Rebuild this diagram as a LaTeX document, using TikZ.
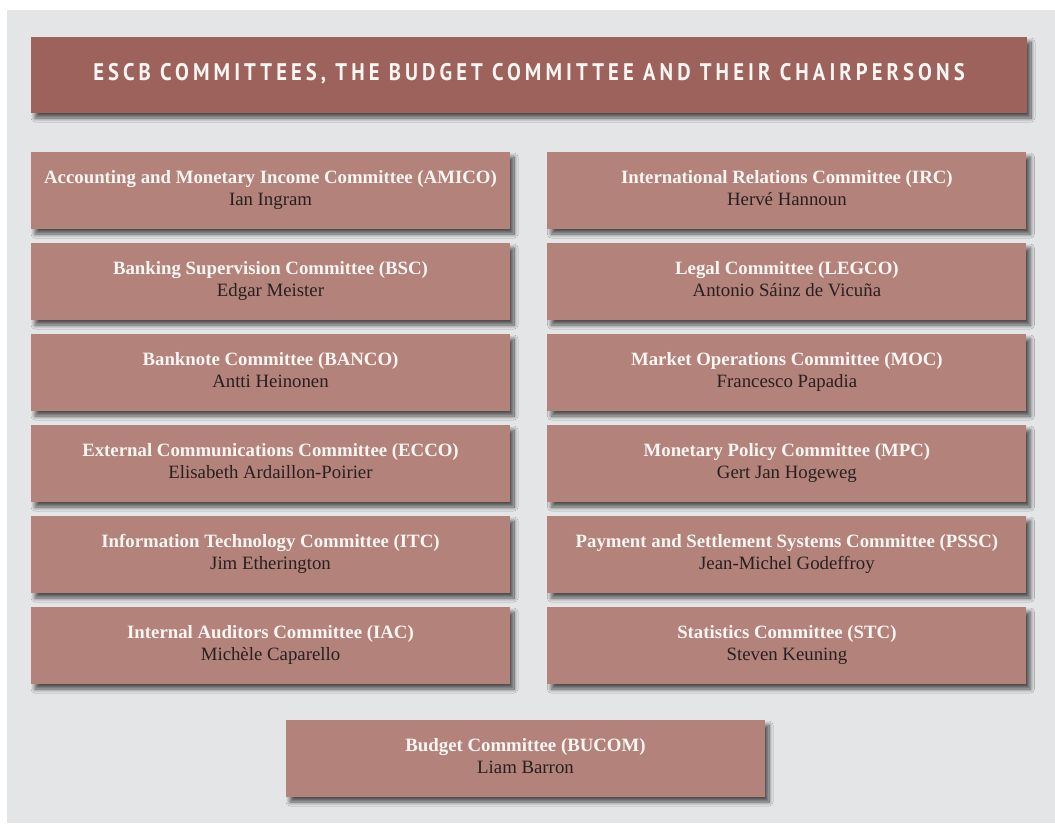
\documentclass[tikz,border=0pt]{standalone}
\usepackage{fontspec}
\setmainfont{Liberation Serif}
\newfontfamily\titlefont[LetterSpace=17, FakeStretch=0.86]{PT Sans}
\usepackage{xcolor}
\usetikzlibrary{positioning, shadows.blur}
\definecolor{panel}{RGB}{228, 229, 231}
\definecolor{headred}{RGB}{156, 98, 91}
\definecolor{boxred}{RGB}{179, 130, 122}
\definecolor{namegray}{RGB}{40, 32, 32}
\definecolor{lightwhite}{RGB}{250, 246, 244}

\begin{document}
\begin{tikzpicture}[
  x=1pt, y=-1pt,
  node distance=13.6pt and 37pt,
  shade/.style={blur shadow={shadow xshift=4pt, shadow yshift=-5pt,
                shadow blur radius=4pt, shadow blur steps=12, shadow opacity=65}},
  headbox/.style={fill=headred, shade, minimum width=996pt, minimum height=76pt,
                  inner sep=0pt, font=\titlefont\bfseries\fontsize{24}{26}\selectfont,
                  text=lightwhite},
  combox/.style={fill=boxred, shade, minimum width=479pt, minimum height=77pt,
                 inner sep=0pt, align=center, font=\fontsize{18.8}{22}\selectfont,
                 text=namegray},
]
\newcommand{\cname}[2]{{\bfseries\color{lightwhite}#1}\strut\\#2\strut}

% background panel
\fill[white] (0,0) rectangle (1055,823);
\fill[panel] (7,10) rectangle (1055,823);

% title
\node[headbox] (title) at (529,75) {\raisebox{6pt}{ESCB COMMITTEES, THE BUDGET COMMITTEE AND THEIR CHAIRPERSONS}};

% left column
\node[combox] (amico) at (270.5,190.5) {\cname{Accounting and Monetary Income Committee (AMICO)}{Ian Ingram}};
\node[combox, below=of amico] (bsc)   {\cname{Banking Supervision Committee (BSC)}{Edgar Meister}};
\node[combox, below=of bsc]   (banco) {\cname{Banknote Committee (BANCO)}{Antti Heinonen}};
\node[combox, below=of banco] (ecco)  {\cname{External Communications Committee (ECCO)}{Elisabeth Ardaillon-Poirier}};
\node[combox, below=of ecco]  (itc)   {\cname{Information Technology Committee (ITC)}{Jim Etherington}};
\node[combox, below=of itc]   (iac)   {\cname{Internal Auditors Committee (IAC)}{Michèle Caparello}};

% right column
\node[combox, right=of amico] (irc)   {\cname{International Relations Committee (IRC)}{Hervé Hannoun}};
\node[combox, below=of irc]   (legco) {\cname{Legal Committee (LEGCO)}{Antonio Sáinz de Vicuña}};
\node[combox, below=of legco] (moc)   {\cname{Market Operations Committee (MOC)}{Francesco Papadia}};
\node[combox, below=of moc]   (mpc)   {\cname{Monetary Policy Committee (MPC)}{Gert Jan Hogeweg}};
\node[combox, below=of mpc]   (pssc)  {\cname{Payment and Settlement Systems Committee (PSSC)}{Jean-Michel Godeffroy}};
\node[combox, below=of pssc]  (stc)   {\cname{Statistics Committee (STC)}{Steven Keuning}};

% budget committee
\node[combox] (bucom) at (525.5,758.5) {\cname{Budget Committee (BUCOM)}{Liam Barron}};

\end{tikzpicture}
\end{document}
